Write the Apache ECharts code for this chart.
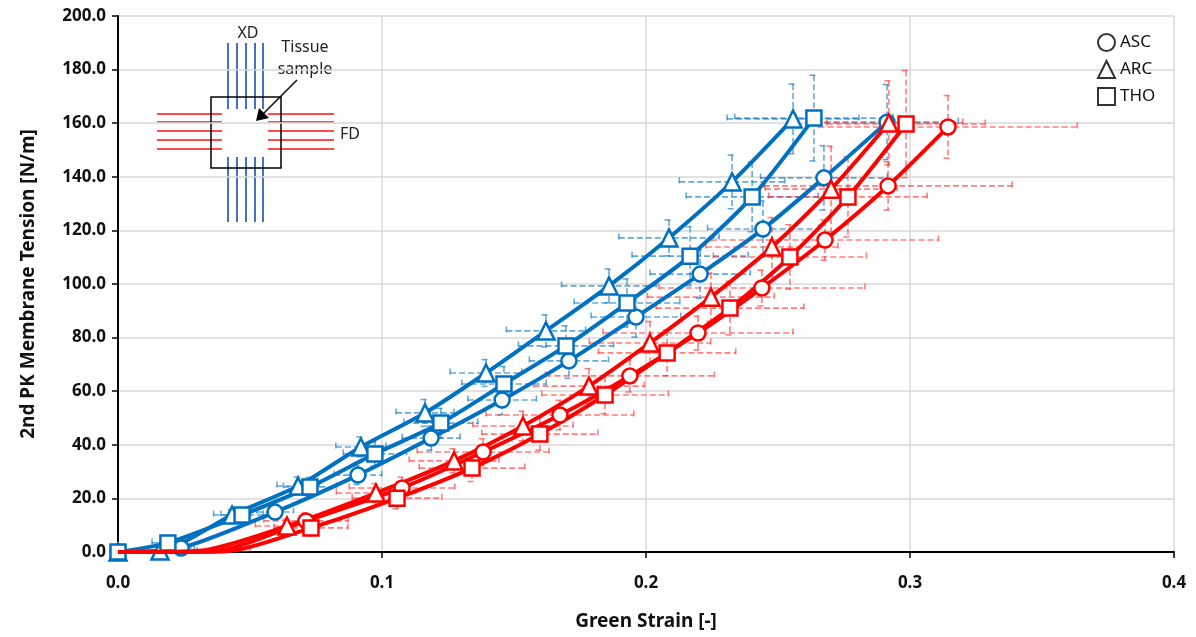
<!DOCTYPE html>
<html>
<head>
<meta charset="utf-8">
<title>Green strain vs 2nd PK membrane tension</title>
<script src="https://cdn.jsdelivr.net/npm/echarts@6/dist/echarts.min.js"></script>
<style>
  html, body { margin: 0; padding: 0; background: #fff; }
  #chart { width: 1196px; height: 637px; }
</style>
</head>
<body>
<div id="chart"></div>
<script>
  // 数据：XD（蓝）与 FD（红）方向，三个部位 ASC / ARC / THO
  const strainAscXD = [0, 0.0239, 0.0595, 0.0909, 0.1186, 0.1455, 0.1708, 0.1962, 0.2205, 0.2443, 0.2674, 0.2913]
  const tensionAscXD = [0, 1.5, 14.9, 28.7, 42.5, 56.7, 71.3, 87.7, 103.7, 120.5, 139.6, 160.4]
  const strainErrAscXD = [0, 0.005, 0.007, 0.009, 0.011, 0.013, 0.015, 0.017, 0.019, 0.021, 0.024, 0.027]
  const tensionErrAscXD = [0, 1, 2.5, 3.5, 4.5, 5.5, 6.5, 7.5, 9, 10.5, 12, 14]

  const strainArcXD = [0, 0.0159, 0.0432, 0.0682, 0.092, 0.1163, 0.1394, 0.1621, 0.186, 0.2087, 0.2326, 0.2557]
  const tensionArcXD = [0, 0.4, 13.8, 24.6, 39.2, 51.9, 66.8, 82.5, 99.3, 117.2, 138.1, 161.6]
  const strainErrArcXD = [0, 0.006, 0.007, 0.008, 0.0095, 0.011, 0.0136, 0.015, 0.018, 0.019, 0.02, 0.025]
  const tensionErrArcXD = [0, 0.8, 2, 3.4, 3.7, 5, 5, 6, 6.3, 6.7, 10, 13]

  const strainThoXD = [0, 0.0189, 0.047, 0.0727, 0.0973, 0.1223, 0.1462, 0.1697, 0.1928, 0.2167, 0.2402, 0.2636]
  const tensionThoXD = [0, 3.4, 13.8, 24.3, 36.6, 48.1, 62.7, 76.9, 92.9, 110.4, 132.5, 161.9]
  const strainErrThoXD = [0, 0.006, 0.008, 0.01, 0.012, 0.014, 0.016, 0.018, 0.02, 0.022, 0.025, 0.03]
  const tensionErrThoXD = [0, 1.5, 2.5, 3.5, 4.5, 5.5, 6.5, 7.5, 9, 11, 13, 16]

  const strainAscFD = [0, 0.036, 0.0712, 0.1076, 0.1383, 0.1674, 0.1939, 0.2197, 0.2439, 0.2678, 0.2917, 0.3144]
  const tensionAscFD = [0, 0.3, 11.6, 23.9, 37.3, 51.1, 65.7, 81.7, 98.5, 116.4, 136.6, 158.6]
  const strainErrAscFD = [0, 0.01, 0.016, 0.02, 0.025, 0.028, 0.032, 0.036, 0.039, 0.043, 0.047, 0.049]
  const tensionErrAscFD = [0, 0.5, 3, 4, 5, 5.5, 6, 6.3, 6.7, 7.5, 9, 11.7]

  const strainArcFD = [0, 0.03, 0.064, 0.0977, 0.1273, 0.1534, 0.1784, 0.2015, 0.2246, 0.2477, 0.2701, 0.292]
  const tensionArcFD = [0, 0.4, 9.7, 22.0, 34.0, 47.0, 61.9, 78.0, 95.1, 113.8, 135.4, 160.1]
  const strainErrArcFD = [0, 0.008, 0.012, 0.015, 0.017, 0.019, 0.021, 0.023, 0.024, 0.025, 0.025, 0.028]
  const tensionErrArcFD = [0, 0.5, 2.5, 3.5, 4.5, 5.5, 6.5, 8, 9, 11, 16, 15.7]

  const strainThoFD = [0, 0.04, 0.0731, 0.1057, 0.1341, 0.1598, 0.1845, 0.208, 0.2318, 0.2545, 0.2765, 0.2985]
  const tensionThoFD = [0, 0.2, 9.0, 20.1, 31.3, 44.0, 58.6, 74.3, 91.0, 110.1, 132.5, 159.7]
  const strainErrThoFD = [0, 0.01, 0.014, 0.017, 0.02, 0.022, 0.024, 0.026, 0.028, 0.029, 0.03, 0.03]
  const tensionErrThoFD = [0, 0.5, 3, 4, 5, 6, 7, 8.5, 10, 12, 15, 20]

  const legendNames = ['ASC', 'ARC', 'THO']
  const legendSymbols = ['circle', 'triangle', 'rect']

  const BLUE = '#0070C0'
  const RED = '#FF0000'
  const BLUE_ERR = 'rgba(0,112,192,0.6)'
  const RED_ERR = 'rgba(255,40,40,0.6)'
  const FONT = 'Noto Sans'

  function zip(xs, ys) {
    return xs.map((x, i) => [x, ys[i]])
  }

  function errData(xs, ys, exs, eys) {
    return xs.map((x, i) => [x, ys[i], exs[i], eys[i]])
  }

  // 误差棒（虚线，带端帽）
  function errSeries(data, color) {
    return {
      type: 'custom',
      z: 1,
      silent: true,
      clip: true,
      data: data,
      renderItem: function (params, api) {
        const x = api.value(0), y = api.value(1), ex = api.value(2), ey = api.value(3)
        if (!ex && !ey) return
        const l = api.coord([x - ex, y]), r = api.coord([x + ex, y])
        const t = api.coord([x, y + ey]), b = api.coord([x, y - ey])
        const cap = 4.5
        const style = { stroke: color, lineWidth: 1.6, lineDash: [6, 3], fill: null }
        const seg = (x1, y1, x2, y2) => ({ type: 'line', shape: { x1, y1, x2, y2 }, style })
        return {
          type: 'group',
          children: [
            seg(l[0], l[1], r[0], r[1]),
            seg(l[0], l[1] - cap, l[0], l[1] + cap),
            seg(r[0], r[1] - cap, r[0], r[1] + cap),
            seg(t[0], t[1], b[0], b[1]),
            seg(t[0] - cap, t[1], t[0] + cap, t[1]),
            seg(b[0] - cap, b[1], b[0] + cap, b[1])
          ]
        }
      }
    }
  }

  function lineSeries(data, color, symbol, size, isFD) {
    return {
      type: 'line',
      z: isFD ? 4 : 3,
      data: data,
      smooth: 0.25,
      symbol: symbol,
      symbolSize: function (v, p) {
        // 起始两个点在图中被遮住
        return isFD && p.dataIndex < 2 ? 0 : size
      },
      showAllSymbol: true,
      lineStyle: { color: color, width: 4 },
      itemStyle: { color: '#fff', borderColor: color, borderWidth: 2.5 },
      emphasis: { disabled: true },
      animation: false
    }
  }

  let chart = echarts.init(document.getElementById('chart'))

  const series = [
    errSeries(errData(strainAscXD, tensionAscXD, strainErrAscXD, tensionErrAscXD), BLUE_ERR),
    errSeries(errData(strainArcXD, tensionArcXD, strainErrArcXD, tensionErrArcXD), BLUE_ERR),
    errSeries(errData(strainThoXD, tensionThoXD, strainErrThoXD, tensionErrThoXD), BLUE_ERR),
    errSeries(errData(strainAscFD, tensionAscFD, strainErrAscFD, tensionErrAscFD), RED_ERR),
    errSeries(errData(strainArcFD, tensionArcFD, strainErrArcFD, tensionErrArcFD), RED_ERR),
    errSeries(errData(strainThoFD, tensionThoFD, strainErrThoFD, tensionErrThoFD), RED_ERR),
    lineSeries(zip(strainAscXD, tensionAscXD), BLUE, 'circle', 15, false),
    lineSeries(zip(strainArcXD, tensionArcXD), BLUE, 'triangle', 17, false),
    lineSeries(zip(strainThoXD, tensionThoXD), BLUE, 'rect', 15, false),
    lineSeries(zip(strainAscFD, tensionAscFD), RED, 'circle', 15, true),
    lineSeries(zip(strainArcFD, tensionArcFD), RED, 'triangle', 17, true),
    lineSeries(zip(strainThoFD, tensionThoFD), RED, 'rect', 15, true)
  ]
  // 图例用的空系列（黑色空心符号）
  legendNames.forEach((name, i) => {
    series.push({
      type: 'scatter',
      name: name,
      data: [],
      symbol: legendSymbols[i],
      itemStyle: { color: '#fff', borderColor: '#000', borderWidth: 2 }
    })
  })

  // 左上角示意图
  const blueLine = { stroke: '#4472C4', lineWidth: 2 }
  const redLine = { stroke: '#FF4B4B', lineWidth: 2 }
  const inset = []
  ;[228, 237, 246, 255, 263].forEach(x => {
    inset.push({ type: 'line', shape: { x1: x, y1: 43, x2: x, y2: 109 }, style: blueLine })
    inset.push({ type: 'line', shape: { x1: x, y1: 157, x2: x, y2: 222 }, style: blueLine })
  })
  ;[114, 122, 131, 140, 149].forEach(y => {
    inset.push({ type: 'line', shape: { x1: 157, y1: y, x2: 222, y2: y }, style: redLine })
    inset.push({ type: 'line', shape: { x1: 268, y1: y, x2: 334, y2: y }, style: redLine })
  })
  inset.push({ type: 'rect', shape: { x: 211, y: 97, width: 70, height: 71 }, style: { fill: null, stroke: '#000', lineWidth: 1.5 } })
  inset.push({ type: 'line', shape: { x1: 297, y1: 80, x2: 262, y2: 115 }, style: { stroke: '#000', lineWidth: 1.5 } })
  inset.push({ type: 'polygon', shape: { points: [[256, 121], [259, 108], [269, 118]] }, style: { fill: '#000' } })
  const insetText = { fill: '#222', font: '16px "Noto Sans"' }
  inset.push({ type: 'text', x: 248, y: 33, style: Object.assign({ text: 'XD', align: 'center', verticalAlign: 'middle' }, insetText) })
  inset.push({ type: 'text', x: 305, y: 47, style: Object.assign({ text: 'Tissue', align: 'center', verticalAlign: 'middle' }, insetText) })
  inset.push({ type: 'text', x: 305, y: 69, style: Object.assign({ text: 'sample', align: 'center', verticalAlign: 'middle' }, insetText) })
  inset.push({ type: 'text', x: 340, y: 134, style: Object.assign({ text: 'FD', align: 'left', verticalAlign: 'middle' }, insetText) })

  chart.setOption({
    animation: false,
    grid: { left: 118, right: 22, top: 16, bottom: 85, outerBoundsMode: 'none', containLabel: false },
    legend: {
      data: legendNames,
      orient: 'vertical',
      left: 1092,
      top: 28,
      itemGap: 8,
      itemWidth: 17,
      itemHeight: 17,
      selectedMode: false,
      textStyle: { fontFamily: FONT, fontSize: 17, color: '#111' }
    },
    xAxis: {
      type: 'value',
      min: 0,
      max: 0.4,
      interval: 0.1,
      name: 'Green Strain [-]',
      nameLocation: 'middle',
      nameGap: 60,
      nameTextStyle: { fontFamily: FONT, fontSize: 19, fontWeight: 'bold', color: '#111' },
      axisLine: { lineStyle: { color: '#000', width: 2 } },
      axisTick: { show: true, length: 6, lineStyle: { color: '#000', width: 1.5 } },
      axisLabel: {
        margin: 23,
        fontFamily: FONT, fontSize: 17, fontWeight: 'bold', color: '#111',
        formatter: v => v.toFixed(1)
      },
      splitLine: { show: true, lineStyle: { color: '#d9d9d9', width: 1.5 } }
    },
    yAxis: {
      type: 'value',
      min: 0,
      max: 200,
      interval: 20,
      name: '2nd PK Membrane Tension [N/m]',
      nameLocation: 'middle',
      nameGap: 80,
      nameTextStyle: { fontFamily: FONT, fontSize: 19, fontWeight: 'bold', color: '#111' },
      axisLine: { show: true, lineStyle: { color: '#000', width: 2 } },
      axisTick: { show: true, length: 6, lineStyle: { color: '#000', width: 1.5 } },
      axisLabel: {
        margin: 12,
        fontFamily: FONT, fontSize: 17, fontWeight: 'bold', color: '#111',
        formatter: v => v.toFixed(1)
      },
      splitLine: { show: true, lineStyle: { color: '#d9d9d9', width: 1.5 } }
    },
    graphic: inset,
    series: series
  })
</script>
</body>
</html>
